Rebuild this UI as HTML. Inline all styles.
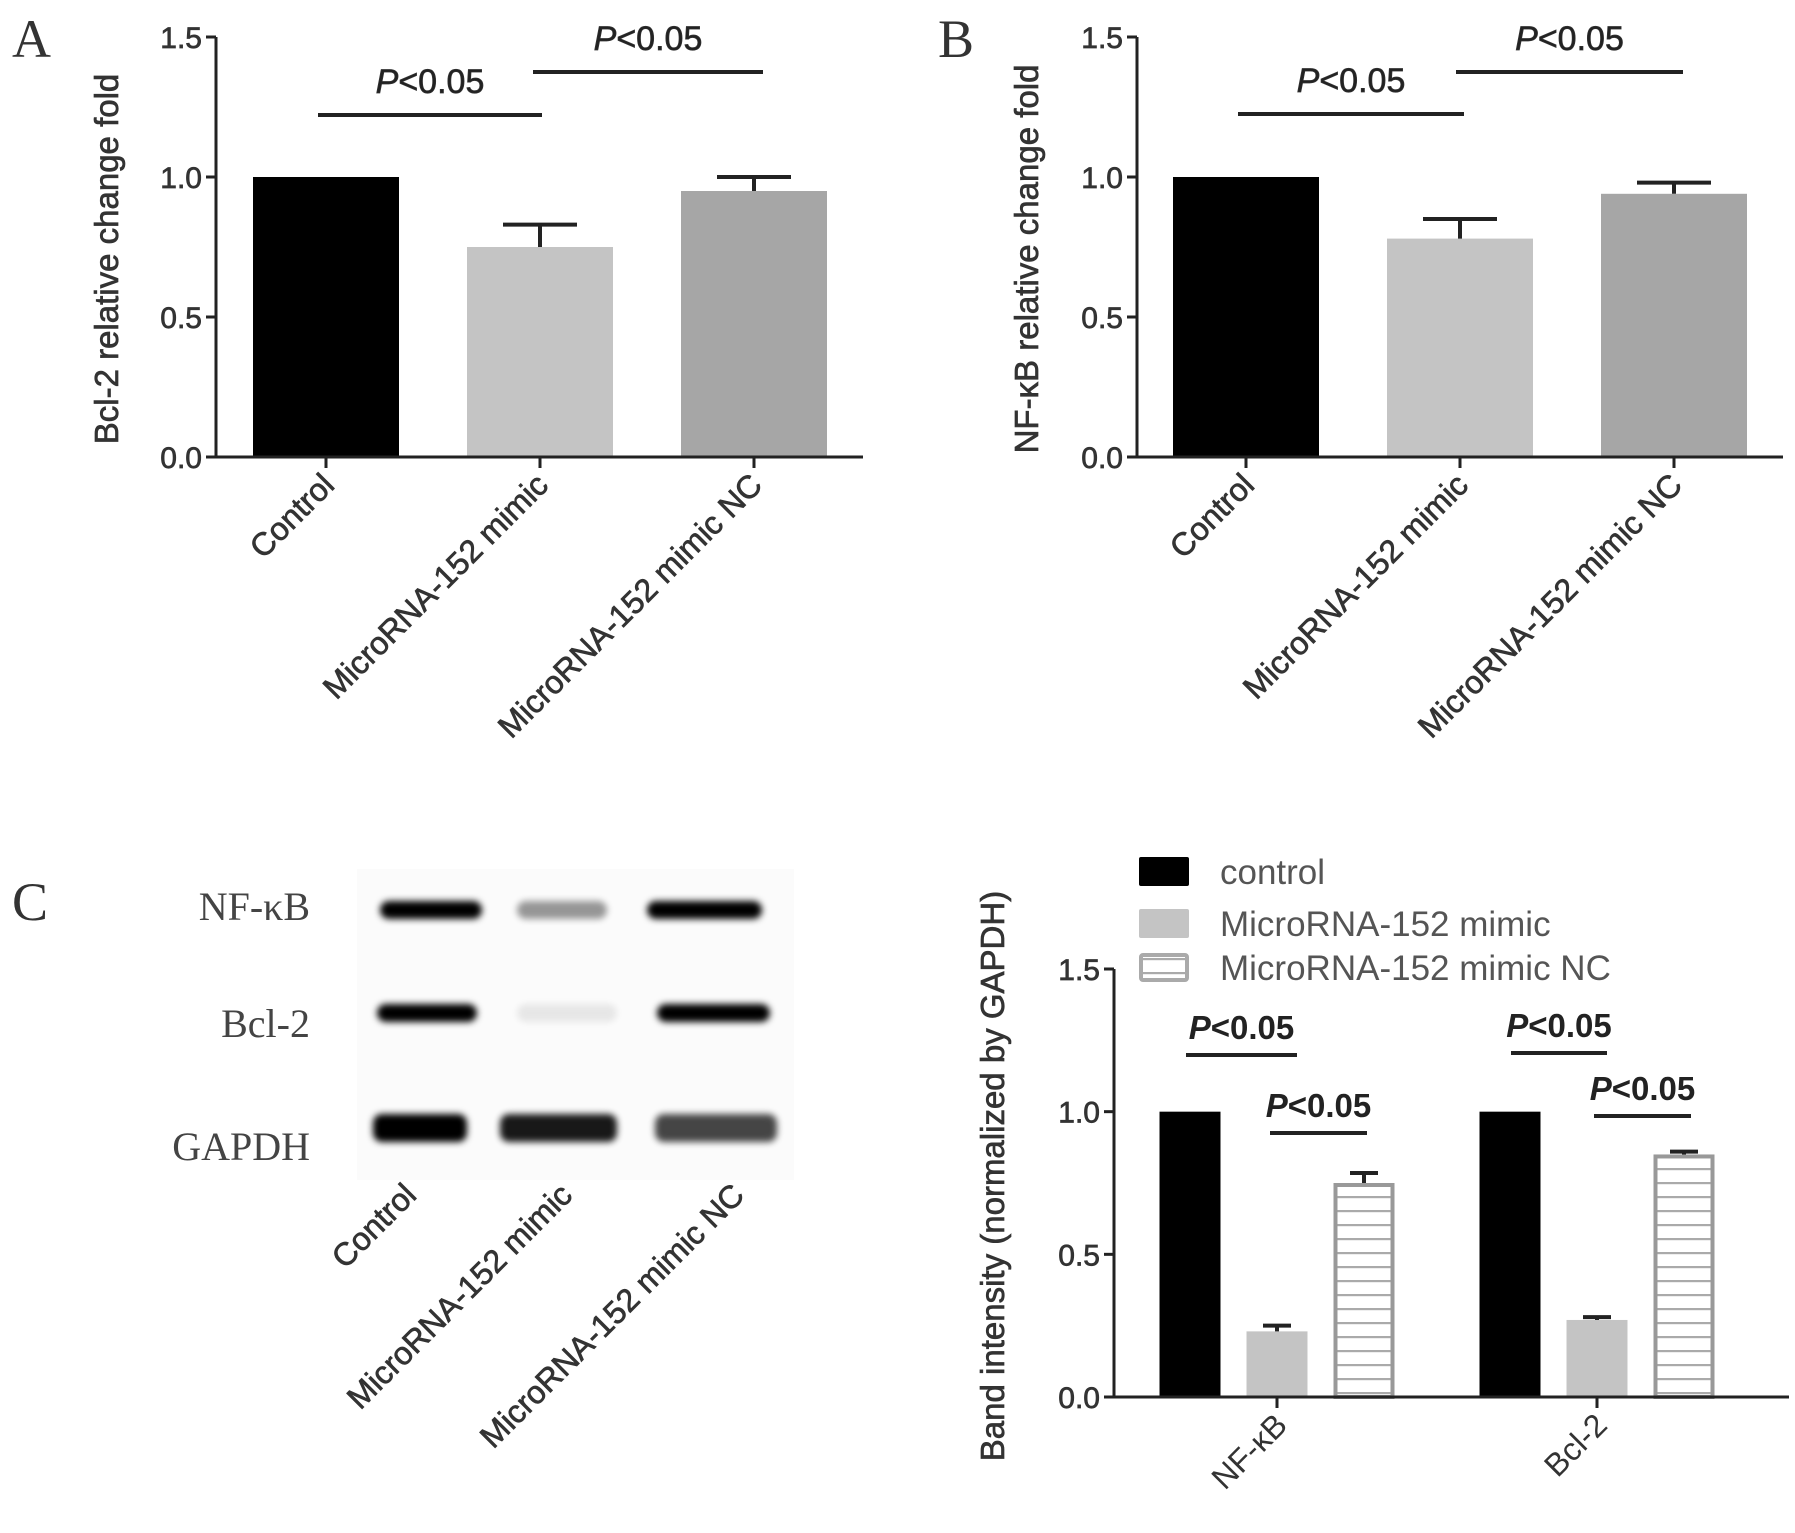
<!DOCTYPE html>
<html><head><meta charset="utf-8"><style>
html,body{margin:0;padding:0;background:#fff}
svg{display:block}
text{font-family:"Liberation Sans",Arial,sans-serif}
.serif{font-family:"Liberation Serif",serif}
.heavy{stroke:#333;stroke-width:0.7px}
</style></head><body>
<svg id="fig" width="1795" height="1533" viewBox="0 0 1795 1533" xmlns="http://www.w3.org/2000/svg">
<defs>
<pattern id="hstripe" width="8" height="14" patternUnits="userSpaceOnUse">
<rect width="8" height="14" fill="#fff"/><rect y="6" width="8" height="2.2" fill="#aaa"/>
</pattern>
<filter id="blur" x="-20%" y="-80%" width="140%" height="260%"><feGaussianBlur stdDeviation="3.5"/></filter>
</defs>
<g id="panelA"></g>
<g id="panelB"></g>
<g id="panelC"></g>
<g id="blot"></g>
</svg>
<script>
const groupsAB = ["Control", "MicroRNA-152 mimic", "MicroRNA-152 mimic NC"];
const bcl2Values = [1.0, 0.75, 0.95];
const bcl2Errors = [0.0, 0.08, 0.05];
const nfkbValues = [1.0, 0.78, 0.94];
const nfkbErrors = [0.0, 0.07, 0.04];
const yTicks = [0.0, 0.5, 1.0, 1.5];
const yTickLabels = ["0.0", "0.5", "1.0", "1.5"];
const cCategories = ["NF-κB", "Bcl-2"];
const cSeries = ["control", "MicroRNA-152 mimic", "MicroRNA-152 mimic NC"];
const cControl = [1.0, 1.0];
const cMimic = [0.23, 0.27];
const cMimicNC = [0.75, 0.85];
const cMimicErr = [0.02, 0.01];
const cMimicNCErr = [0.035, 0.01];

const NS = "http://www.w3.org/2000/svg";
function mk(parent, tag, attrs, txt) {
  const e = document.createElementNS(NS, tag);
  for (const k in attrs) e.setAttribute(k, attrs[k]);
  if (txt !== undefined) e.textContent = txt;
  parent.appendChild(e);
  return e;
}

function drawAB(gid, letter, letterX, title, vals, errs, o) {
  const g = document.getElementById(gid);
  const y = v => o.y0 - (v / 1.5) * (o.y0 - o.y15);
  const colors = ["#000", "#c4c4c4", "#a6a6a6"];
  const L = mk(g, "text", {x: letterX, y: 57, "font-size": 54, class: "serif", fill: "#333"}, letter);
  
  
  vals.forEach((v, i) => {
    const cx = o.ticks[i];
    const r = mk(g, "rect", {x: cx - o.bw / 2, y: y(v), width: o.bw, height: o.y0 - y(v), fill: colors[i]});
    
    
    if (errs[i] > 0) {
      const e = mk(g, "path", {d: `M${cx} ${y(v)}V${y(v + errs[i])}M${cx - 37} ${y(v + errs[i])}H${cx + 37}`, stroke: "#222", "stroke-width": 4, fill: "none"});
      
      
    } else if (i > 0) {
      mk(g, "path", {d: `M${cx - 37} ${y(v)}H${cx + 37}`, stroke: "#222", "stroke-width": 4});
    }
  });
  const ax = mk(g, "path", {d: `M${o.x0} ${o.y15}V${o.y0}H${o.xEnd}`, stroke: "#222", "stroke-width": 3, fill: "none"});
  
  
  yTicks.forEach((t, i) => {
    mk(g, "path", {d: `M${o.x0 - 10} ${y(t)}H${o.x0}`, stroke: "#222", "stroke-width": 3});
    const tl = mk(g, "text", {x: o.x0 - 14, y: y(t) + 11, "font-size": 30, "text-anchor": "end", fill: "#333", class: "heavy"}, yTickLabels[i]);
    
    
  });
  groupsAB.forEach((c, i) => {
    const cx = o.ticks[i];
    mk(g, "path", {d: `M${cx} ${o.y0}V${o.y0 + 11}`, stroke: "#222", "stroke-width": 3});
    const t = mk(g, "text", {transform: `translate(${cx + 10},${o.y0 + 30}) rotate(-45)`, "font-size": 32, "text-anchor": "end", fill: "#333", class: "heavy"}, c);
    
    
  });
  const yt = mk(g, "text", {transform: `translate(${o.titleX},${(o.y0 + o.y15) / 2 + 12}) rotate(-90)`, "font-size": 33, "text-anchor": "middle", fill: "#333", class: "heavy"}, title);
  
  
  o.sig.forEach(s => {
    const ln = mk(g, "path", {d: `M${s[0]} ${s[2]}H${s[1]}`, stroke: "#222", "stroke-width": 4});
    
    
    const tx = mk(g, "text", {x: (s[0] + s[1]) / 2, y: s[2] - 22, "font-size": 34, "text-anchor": "middle", fill: "#222", class: "heavy"});
    
    
    mk(tx, "tspan", {"font-style": "italic"}, "P");
    mk(tx, "tspan", {}, "<0.05");
  });
}

drawAB("panelA", "A", 12, "Bcl-2 relative change fold", bcl2Values, bcl2Errors,
  {x0: 216, xEnd: 863, y0: 457, y15: 37, bw: 146, ticks: [326, 540, 754], titleX: 118,
   sig: [[318, 542, 115], [533, 763, 72]]});
drawAB("panelB", "B", 938, "NF-κB relative change fold", nfkbValues, nfkbErrors,
  {x0: 1137, xEnd: 1783, y0: 457, y15: 37, bw: 146, ticks: [1246, 1460, 1674], titleX: 1038,
   sig: [[1238, 1464, 114], [1456, 1683, 72]]});

// Panel C chart
(function () {
  const g = document.getElementById("panelC");
  const x0 = 1114, xEnd = 1789, y0 = 1397, y15 = 969;
  const y = v => y0 - (v / 1.5) * (y0 - y15);
  const catX = [1277, 1597];
  const offs = [-87, 0, 87];
  const bw = 61;
  const series = [cControl, cMimic, cMimicNC];
  const errs = [null, cMimicErr, cMimicNCErr];
  cCategories.forEach((c, ci) => {
    series.forEach((s, si) => {
      const cx = catX[ci] + offs[si];
      const v = s[ci];
      let r;
      if (si === 2) {
        r = mk(g, "rect", {x: cx - bw / 2 + 2, y: y(v) + 2, width: bw - 4, height: y0 - y(v) - 2, fill: "url(#hstripe)", stroke: "#999", "stroke-width": 4});
      } else {
        r = mk(g, "rect", {x: cx - bw / 2, y: y(v), width: bw, height: y0 - y(v), fill: si === 0 ? "#000" : "#c4c4c4"});
      }
      
      
      if (errs[si]) {
        const e = errs[si][ci];
        const eb = mk(g, "path", {d: `M${cx} ${y(v)}V${y(v + e)}M${cx - 14} ${y(v + e)}H${cx + 14}`, stroke: "#222", "stroke-width": 4, fill: "none"});
        
        
      }
    });
    mk(g, "path", {d: `M${catX[ci]} ${y0}V${y0 + 11}`, stroke: "#222", "stroke-width": 3});
    const t = mk(g, "text", {transform: `translate(${catX[ci] + 12},${y0 + 30}) rotate(-45)`, "font-size": 32, "text-anchor": "end", fill: "#333"}, c);
    
    
  });
  const ax = mk(g, "path", {d: `M${x0} ${y15}V${y0}H${xEnd}`, stroke: "#222", "stroke-width": 3, fill: "none"});
  
  
  yTicks.forEach((t, i) => {
    mk(g, "path", {d: `M${x0 - 10} ${y(t)}H${x0}`, stroke: "#222", "stroke-width": 3});
    const tl = mk(g, "text", {x: x0 - 14, y: y(t) + 11, "font-size": 30, "text-anchor": "end", fill: "#333", class: "heavy"}, yTickLabels[i]);
    
    
  });
  const yt = mk(g, "text", {transform: `translate(1004,1176) rotate(-90)`, "font-size": 33, "text-anchor": "middle", fill: "#333", class: "heavy"}, "Band intensity (normalized by GAPDH)");
  
  
  const sig = [[1186, 1297, 1055], [1270, 1367, 1133], [1511, 1607, 1053], [1594, 1691, 1116]];
  sig.forEach(s => {
    const ln = mk(g, "path", {d: `M${s[0]} ${s[2]}H${s[1]}`, stroke: "#222", "stroke-width": 4});
    
    
    const tx = mk(g, "text", {x: (s[0] + s[1]) / 2, y: s[2] - 16, "font-size": 33, "font-weight": "bold", "text-anchor": "middle", fill: "#222"});
    
    
    mk(tx, "tspan", {"font-style": "italic"}, "P");
    mk(tx, "tspan", {}, "<0.05");
  });
  const ly = [857, 909, 953];
  cSeries.forEach((s, i) => {
    let r;
    if (i === 2) r = mk(g, "rect", {x: 1141, y: ly[i] + 2, width: 46, height: 25, fill: "url(#hstripe)", stroke: "#aaa", "stroke-width": 4, rx: 2});
    else r = mk(g, "rect", {x: 1139, y: ly[i], width: 50, height: 29, fill: i === 0 ? "#000" : "#c4c4c4", rx: 2});
    
    
    const t = mk(g, "text", {x: 1220, y: ly[i] + 27, "font-size": 35, fill: "#555"}, s);
    
    
  });
})();

// Western blot
(function () {
  const g = document.getElementById("blot");
  const C = mk(g, "text", {x: 12, y: 920, "font-size": 54, class: "serif", fill: "#333"}, "C");
  
  
  const bg = mk(g, "rect", {x: 357, y: 869, width: 437, height: 311, fill: "#fbfbfb"});
  
  
  const rows = [
    {label: "NF-κB", ly: 920, by: 910, h: 18, bands: [[380, 482, 1], [517, 607, 0.4], [647, 762, 1]]},
    {label: "Bcl-2", ly: 1037, by: 1013, h: 18, bands: [[377, 477, 1], [517, 617, 0.08], [657, 770, 1]]},
    {label: "GAPDH", ly: 1160, by: 1128, h: 28, bands: [[373, 467, 1], [500, 617, 0.9], [655, 777, 0.72]]}
  ];
  rows.forEach(r => {
    const t = mk(g, "text", {x: 310, y: r.ly, "font-size": 40, class: "serif", "text-anchor": "end", fill: "#444"}, r.label);
    
    
    r.bands.forEach(b => {
      const e = mk(g, "rect", {x: b[0], y: r.by - r.h / 2, width: b[1] - b[0], height: r.h, rx: 9, fill: "#000", opacity: b[2], filter: "url(#blur)"});
      
      
    });
  });
  const lanes = [[418, 1197], [574, 1197], [746, 1197]];
  groupsAB.forEach((c, i) => {
    const t = mk(g, "text", {transform: `translate(${lanes[i][0]},${lanes[i][1]}) rotate(-45)`, "font-size": 32, "text-anchor": "end", fill: "#333", class: "heavy"}, c);
    
    
  });
})();
</script>
</body></html>
